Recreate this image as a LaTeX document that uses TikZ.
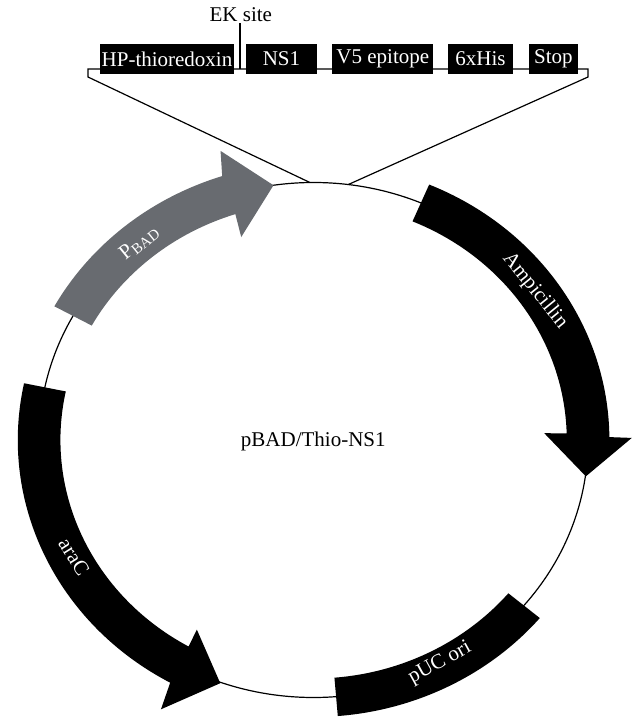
\documentclass[tikz,border=0pt]{standalone}
\usepackage{fontspec}
\setmainfont{Liberation Serif}
\definecolor{pbadgray}{RGB}{104,107,112}
\begin{document}
\begin{tikzpicture}[x=0.5pt,y=0.5pt,
  genebox/.style={fill=black,text=white,inner sep=0pt,minimum height=14.85pt,font=\fontsize{10.5}{12}\selectfont},
  lbl/.style={inner sep=0pt,font=\fontsize{10.5}{12}\selectfont},
  bandlbl/.style={inner sep=0pt,text=white,font=\fontsize{10.5}{12}\selectfont},
  thinline/.style={line width=0.6pt,draw=black}]
\useasboundingbox (0,0) rectangle (632,719);
% plasmid circle and bands
\begin{scope}[shift={(313.6,279)},xscale=1.066]
  \draw[thinline] (0,0) circle[radius=257.5];
  \coordinate (cL) at (90.76:257.5);
  \coordinate (cR) at (82.75:257.5);
  % P_BAD
  \fill[pbadgray] (151.2:277.5) arc[start angle=151.2,end angle=108,radius=277.5]
     -- (106.8:302) -- (98.4:257.5) -- (108.5:214) -- (108:237.5)
     arc[start angle=108,end angle=151.2,radius=237.5] -- cycle;
  % Ampicillin
  \fill[black] (67:277.5) arc[start angle=67,end angle=0.6,radius=277.5]
     -- (0.4:298.5) -- (-8.1:258) -- (1.8:216.5) -- (1.6:237.5)
     arc[start angle=1.6,end angle=67,radius=237.5] -- cycle;
  % araC
  \fill[black] (168.2:277.5) arc[start angle=168.2,end angle=241,radius=277.5]
     -- (242:305) -- (250.2:258.5) -- (240:219) -- (240.4:237.5)
     arc[start angle=240.4,end angle=168.2,radius=237.5] -- cycle;
  % pUC ori
  \fill[black] (-85.3:277) arc[start angle=-85.3,end angle=-40,radius=277]
     -- (-40:238.5) arc[start angle=-40,end angle=-85.3,radius=238.5] -- cycle;
\end{scope}
% labels on the plasmid
\node[bandlbl,rotate=39] (pbad) at (139,476) {P\raisebox{-0.3ex}{\fontsize{7.5}{9}\selectfont BAD}};
\node[bandlbl,rotate=-51] (amp) at (535,428.3) {Ampicillin};
\node[bandlbl,rotate=-58] (arac) at (74,162.3) {araC};
\node[bandlbl,rotate=29] (puc) at (440,55.7) {pUC ori};
\node[lbl] (name) at (313.3,277.3) {pBAD/Thio-NS1};
% construct bar
\coordinate (brLtop) at (88,650);
\coordinate (brLbot) at (88,642);
\coordinate (brRtop) at (588,650);
\coordinate (brRbot) at (588,642);
\coordinate (ekj) at (240,650);
\draw[thinline] (cL) -- (brLbot) -- (brLtop) -- (brRtop) -- (brRbot) -- (cR);
\node[lbl] (ek) at (240.8,704) {EK site};
\draw[thinline] (ekj |- 0,696) -- (ekj);
\node[genebox,minimum width=67pt] (hp) at (167,659.85) {HP-thioredoxin};
\node[genebox,minimum width=35.8pt] (ns1) at (281.5,659.85) {NS1};
\node[genebox,minimum width=50.5pt] (v5) at (382.8,659.85) {V5 epitope};
\node[genebox,minimum width=32.8pt] (his) at (480.5,659.85) {6xHis};
\node[genebox,minimum width=24.35pt] (stop) at (553.35,659.85) {Stop};
\end{tikzpicture}
\end{document}
